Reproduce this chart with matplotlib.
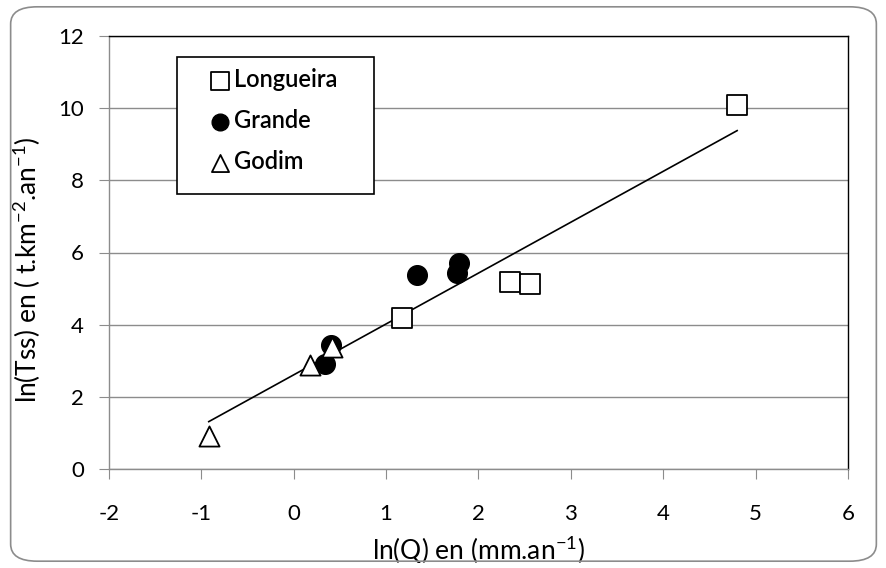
import numpy as np
import matplotlib
matplotlib.use("Agg")
import matplotlib.pyplot as plt
from matplotlib.patches import FancyBboxPatch, Rectangle

plt.rcParams['font.family'] = ['Lato', 'DejaVu Sans']
plt.rcParams['mathtext.fontset'] = 'custom'
plt.rcParams['mathtext.rm'] = 'Lato'
plt.rcParams['mathtext.it'] = 'Lato'
plt.rcParams['axes.unicode_minus'] = False

# Data
longueira_x = [4.80, 2.34, 2.56, 1.17]
longueira_y = [10.10, 5.18, 5.12, 4.18]
grande_x = [1.79, 1.77, 1.33, 0.34, 0.40]
grande_y = [5.71, 5.43, 5.37, 2.91, 3.43]
godim_x = [0.41, 0.18, -0.92]
godim_y = [3.38, 2.88, 0.91]
trend_slope = 1.41
trend_intercept = 2.61
x_ticks = [-2, -1, 0, 1, 2, 3, 4, 5, 6]
y_ticks = [0, 2, 4, 6, 8, 10, 12]

all_x = np.array(longueira_x + grande_x + godim_x)

fig = plt.figure(figsize=(8.87, 5.68), dpi=100)
ax = fig.add_axes([109/887, 99/568, 739/887, 433/568])

# rounded chart border
border = FancyBboxPatch((0.012, 0.012), 0.976, 0.976,
                        boxstyle="round,pad=0,rounding_size=0.03",
                        transform=fig.transFigure, fill=False,
                        edgecolor='#8c8c8c', linewidth=1.2, zorder=0)
fig.patches.append(border)

ax.set_xlim(-2, 6)
ax.set_ylim(0, 12)
ax.set_xticks(x_ticks)
ax.set_yticks(y_ticks)
ax.yaxis.grid(True, color='#8c8c8c', linewidth=1.0)
ax.set_axisbelow(True)

for s in ['top', 'right']:
    ax.spines[s].set_color('black')
    ax.spines[s].set_linewidth(1.0)
for s in ['left', 'bottom']:
    ax.spines[s].set_color('#8c8c8c')
    ax.spines[s].set_linewidth(1.0)

ax.tick_params(axis='both', direction='out', length=7, color='#8c8c8c',
               labelsize=16)
ax.tick_params(axis='y', pad=11)
ax.tick_params(axis='x', pad=18)

xfit = np.array([all_x.min(), all_x.max()])
ax.plot(xfit, trend_slope * xfit + trend_intercept, color='black',
        linewidth=1.2, zorder=2)

ax.scatter(longueira_x, longueira_y, marker='s', s=210, facecolor='white',
           edgecolor='black', linewidth=1.3, zorder=3, label='Longueira')
ax.scatter(grande_x, grande_y, marker='o', s=200, facecolor='black',
           edgecolor='black', zorder=3, label='Grande')
ax.scatter(godim_x, godim_y, marker='^', s=210, facecolor='white',
           edgecolor='black', linewidth=1.3, zorder=4, label='Godim')

ax.set_xlabel('ln(Q) en (mm.an$^{-1}$)', fontsize=19)
ax.set_ylabel('ln(Tss) en ( t.km$^{-2}$.an$^{-1}$)', fontsize=19)
ax.xaxis.set_label_coords(0.5, -0.15)
ax.yaxis.set_label_coords(-0.089, 0.46)

# legend box
ax.add_patch(Rectangle((0.092, 0.635), 0.2666, 0.316, transform=ax.transAxes,
                       facecolor='white', edgecolor='black', linewidth=1.2,
                       zorder=5))
leg = ax.legend(loc='upper left', bbox_to_anchor=(0.1373, 0.925),
                frameon=False, prop={'size': 17, 'weight': 'semibold'},
                markerscale=0.85, handletextpad=0.2, labelspacing=0.75,
                borderpad=0, handlelength=0.8, borderaxespad=0)
leg.set_zorder(6)

fig.savefig('out.png', dpi=100)
